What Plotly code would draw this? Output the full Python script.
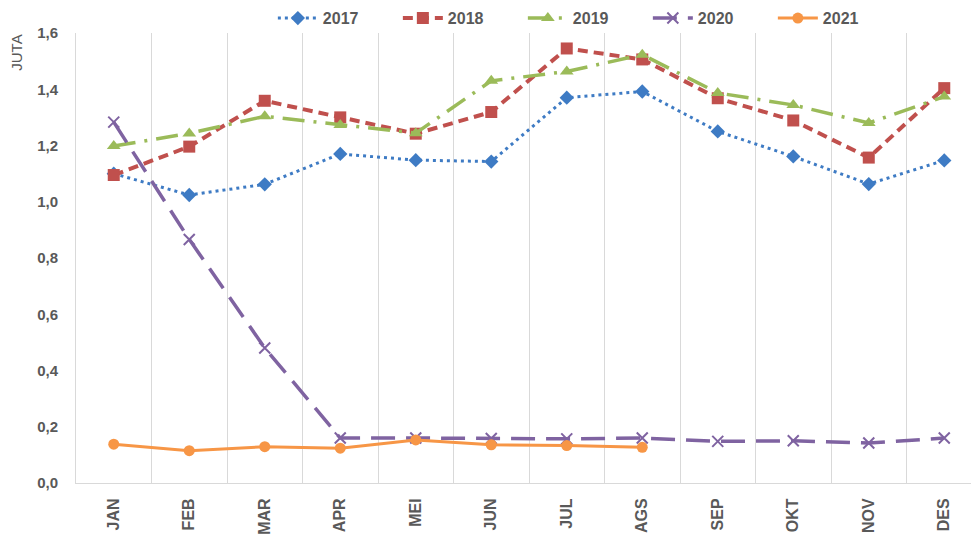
import plotly.graph_objects as go

months = ["JAN", "FEB", "MAR", "APR", "MEI", "JUN", "JUL", "AGS", "SEP", "OKT", "NOV", "DES"]
y2017 = [1.10, 1.024, 1.062, 1.17, 1.148, 1.143, 1.37, 1.392, 1.25, 1.161, 1.063, 1.147]
y2018 = [1.095, 1.196, 1.359, 1.30, 1.242, 1.319, 1.545, 1.506, 1.368, 1.289, 1.157, 1.404]
y2019 = [1.198, 1.243, 1.304, 1.273, 1.244, 1.43, 1.463, 1.523, 1.387, 1.344, 1.28, 1.374]
y2020 = [1.283, 0.866, 0.48, 0.16, 0.16, 0.158, 0.157, 0.16, 0.148, 0.15, 0.142, 0.16]
y2021 = [0.138, 0.115, 0.129, 0.124, 0.153, 0.136, 0.133, 0.127]
months2021 = months[:len(y2021)]

FONT = "Liberation Sans, Arial, sans-serif"
GREY = "#595959"

fig = go.Figure()
fig.add_trace(go.Scatter(x=months, y=y2017, name="2017", mode="lines+markers",
                         line=dict(color="#3E7BC4", width=3, dash="3px,4px"),
                         marker=dict(symbol="diamond", size=11, color="#3E7BC4")))
fig.add_trace(go.Scatter(x=months, y=y2018, name="2018", mode="lines+markers",
                         line=dict(color="#C0504D", width=4, dash="10px,6px"),
                         marker=dict(symbol="square", size=12, color="#C0504D")))
fig.add_trace(go.Scatter(x=months, y=y2019, name="2019", mode="lines+markers",
                         line=dict(color="#9BBB59", width=3.5, dash="22px,9px,3px,9px"),
                         marker=dict(symbol="triangle-up", size=12, color="#9BBB59")))
fig.add_trace(go.Scatter(x=months, y=y2020, name="2020", mode="lines+markers",
                         line=dict(color="#7F63A1", width=3.5, dash="24px,11px"),
                         marker=dict(symbol="x-thin", size=11, color="#7F63A1",
                                     line=dict(color="#7F63A1", width=2))))
fig.add_trace(go.Scatter(x=months2021, y=y2021, name="2021", mode="lines+markers",
                         line=dict(color="#F79646", width=3),
                         marker=dict(symbol="circle", size=11, color="#F79646")))

# page body has an 8px default margin, so the figure is 8px smaller than the window
fig.update_layout(
    width=971, height=534,
    margin=dict(l=68, r=0, t=25, b=59, autoexpand=False),
    plot_bgcolor="white", paper_bgcolor="white",
    font=dict(family=FONT, color=GREY, size=15),
    showlegend=True,
    legend=dict(orientation="h", x=0.218, xanchor="left", y=1.033, yanchor="middle",
                font=dict(family=FONT, size=16, color=GREY, weight="bold"),
                entrywidth=70, entrywidthmode="pixels", itemwidth=40,
                bgcolor="rgba(0,0,0,0)"),
    xaxis=dict(type="category", categoryorder="array", categoryarray=months,
               range=[-0.5, 11.46], tickson="boundaries", showgrid=True,
               gridcolor="#D9D9D9", gridwidth=1, ticks="", tickangle=-90,
               showline=True, linecolor="#D9D9D9", linewidth=1,
               tickfont=dict(family=FONT, size=16, color=GREY, weight="bold"),
               ticklabelstandoff=8, zeroline=False),
    yaxis=dict(range=[0, 1.6], dtick=0.2, tickformat=".1f", showgrid=False,
               showline=True, linecolor="#D9D9D9", linewidth=1, ticks="",
               tickfont=dict(family=FONT, size=15, color=GREY, weight="bold"),
               ticklabelstandoff=14, zeroline=False),
    separators=",.",
    annotations=[dict(text="JUTA", textangle=-90, xref="paper", yref="paper",
                      x=-0.066, y=0.957, xanchor="center", yanchor="middle",
                      showarrow=False,
                      font=dict(family=FONT, size=15, color=GREY))],
)

fig.write_html("out.html")
